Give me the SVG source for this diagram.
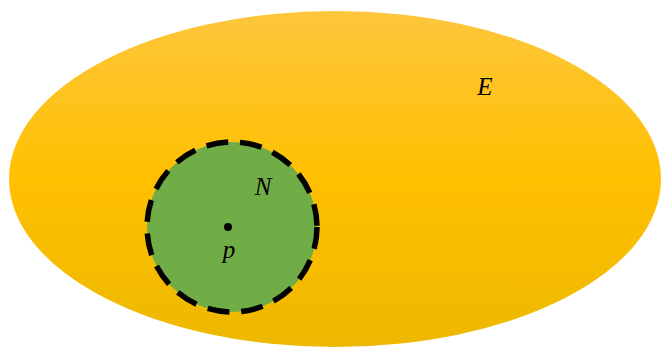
<svg xmlns="http://www.w3.org/2000/svg" width="666" height="349" viewBox="0 0 666 349">
<defs>
<linearGradient id="gold" x1="0" y1="0" x2="0" y2="1">
<stop offset="0" stop-color="#FDC63C"/>
<stop offset="0.5" stop-color="#FFC000"/>
<stop offset="1" stop-color="#EDB800"/>
</linearGradient>
</defs>
<style>
.lbl{font-family:"Liberation Serif","DejaVu Serif",serif;font-style:italic;font-size:25px;fill:#000;text-anchor:middle}
</style>
<rect width="666" height="349" fill="#ffffff"/>
<g id="E">
<ellipse cx="335" cy="179" rx="326" ry="168" fill="url(#gold)"/>
<text class="lbl" x="485" y="95">E</text>
</g>
<g id="N">
<circle cx="232" cy="227" r="85" fill="#70AD47" stroke="#000" stroke-width="5.5" stroke-dasharray="22 12"/>
<text class="lbl" x="263" y="195">N</text>
</g>
<g id="p">
<circle cx="228" cy="227" r="4" fill="#000"/>
<text class="lbl" x="229" y="258">p</text>
</g>
<g id="connectors"/>
</svg>
